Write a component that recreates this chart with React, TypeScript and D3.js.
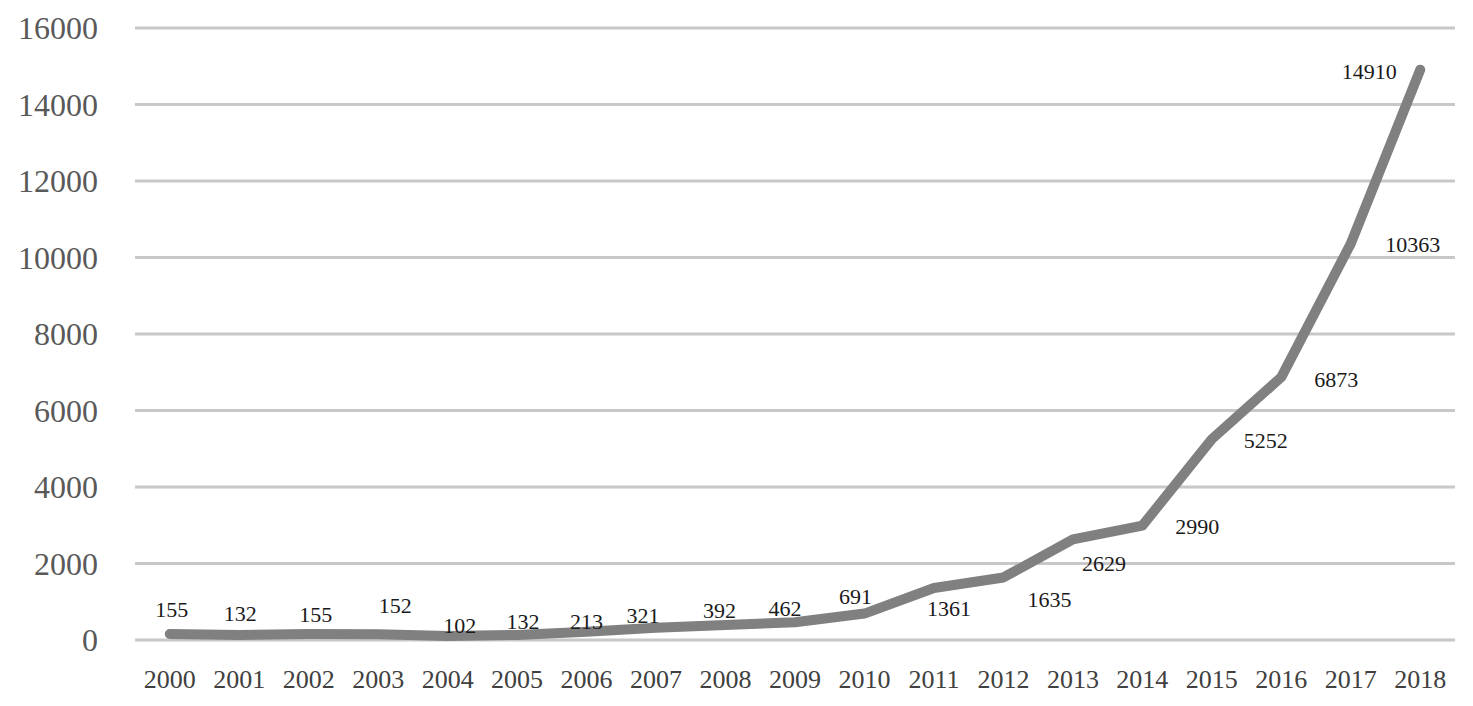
import React from "react";
import * as d3 from "d3";

const years = ["2000","2001","2002","2003","2004","2005","2006","2007","2008","2009","2010","2011","2012","2013","2014","2015","2016","2017","2018"];
const values = [155,132,155,152,102,132,213,321,392,462,691,1361,1635,2629,2990,5252,6873,10363,14910];
const yTicks = [0,2000,4000,6000,8000,10000,12000,14000,16000];
// label offsets relative to each point (dx, dy)
const labelDx = [2,1,7,17,12,6,0,-13,-6,-10,-9,15,46,31,55,54,55,62,-51];
const labelDy = [-25,-21,-20,-29,-11,-13,-10,-12,-15,-14,-17,21,22,24,1,1,2,1,2];

export default function App() {
  const W = 1473, H = 706;
  const left = 135, right = 1455, top = 28, bottom = 640;
  const x = d3.scaleBand<string>().domain(years).range([left, right]);
  const y = d3.scaleLinear().domain([0, 16000]).range([bottom, top]);
  const cx = (i: number) => (x(years[i]) as number) + x.bandwidth() / 2;
  const line = d3.line<number>().x((_, i) => cx(i)).y((d) => y(d));
  const serif = "'Liberation Serif', 'Times New Roman', serif";
  return (
    <svg width={W} height={H} style={{ position: "absolute", left: 0, top: 0, background: "#fff" }}>
      {yTicks.map((t) => (
        <g key={t}>
          <line x1={left} x2={right} y1={y(t)} y2={y(t)} stroke="#c8c8c8" strokeWidth={3} />
          <text x={98} y={y(t)} textAnchor="end" dominantBaseline="central" fontFamily={serif} fontSize={32} fill="#595959">{t}</text>
        </g>
      ))}
      {years.map((yr, i) => (
        <text key={yr} x={cx(i)} y={679} textAnchor="middle" dominantBaseline="central" fontFamily={serif} fontSize={26} fill="#404040">{yr}</text>
      ))}
      <path d={line(values) || ""} fill="none" stroke="#808080" strokeWidth={10} strokeLinecap="round" strokeLinejoin="round" />
      {values.map((v, i) => (
        <text key={i} x={cx(i) + labelDx[i]} y={y(v) + labelDy[i]} textAnchor="middle" dominantBaseline="central" fontFamily={serif} fontSize={22} fill="#1a1a1a">{v}</text>
      ))}
    </svg>
  );
}
